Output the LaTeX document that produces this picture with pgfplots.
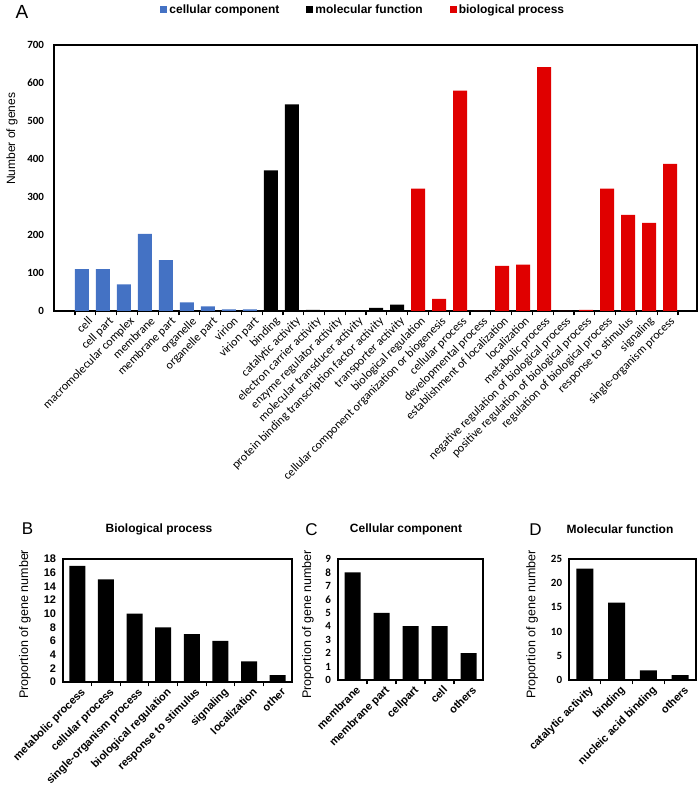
\documentclass[border=0pt]{standalone}
\usepackage{fontspec}
\setmainfont{Liberation Sans}
\newfontfamily\calibri{Carlito}
\usepackage{pgfplots}
\pgfplotsset{compat=1.18}

\definecolor{ccblue}{HTML}{4472C4}
\definecolor{bpred}{HTML}{E00000}

\pgfplotsset{
  goax/.style={
    scale only axis, anchor=south west,
    line width=1.2pt,
    tick pos=left,
    xtick align=outside,
    major tick length=0pt, minor tick length=4.5pt,
    tick style={black, line width=1.2pt},
    ymin=0,
    clip=false,
    /pgf/number format/assume math mode=true,
  },
  gobar/.style={ybar, bar shift=0pt, draw=none,
    legend image code/.code={\fill[##1] (0pt,-3pt) rectangle (7pt,4pt);}},
  rotlab/.style={rotate=45, anchor=north east, inner sep=3pt},
}

\begin{document}
\begin{tikzpicture}[x=1pt,y=1pt]
\useasboundingbox (0,0) rectangle (700,799);

% A: number of genes per GO term
% bars sit at 1..29, labels at the centres of the tick slots (which drift a little)
\begin{axis}[goax, at={(54pt,488pt)}, width=643pt, height=266pt,
  xmin=-0.333, xmax=30.286, ymax=700, ytick={0,100,...,700},
  xtick={1.25,2.24,...,29.1},
  xticklabels={cell, cell part, macromolecular complex, membrane, membrane part,
    organelle, organelle part, virion, virion part, binding, catalytic activity,
    electron carrier activity, enzyme regulator activity, molecular transducer activity,
    protein binding transcription factor activity, transporter activity,
    biological regulation, cellular component organization or biogenesis,
    cellular process, developmental process, establishment of localization,
    localization, metabolic process, negative regulation of biological process,
    positive regulation of biological process, regulation of biological process,
    response to stimulus, signaling, single-organism process},
  minor xtick={0.667,1.657,...,29.4},
  xticklabel style={rotlab, font=\calibri\fontsize{12}{12}\selectfont},
  yticklabel style={font=\calibri\bfseries\fontsize{11}{11}\selectfont, xshift=-6pt},
  ylabel={Number of genes},
  every axis y label/.style={at={(axis description cs:-0.0653,0.647)}, rotate=90,
    anchor=center, font=\fontsize{12}{12}\selectfont},
  legend columns=3,
  legend style={at={(0.481,1.132)}, anchor=center, draw=none, fill=none,
    font=\bfseries\fontsize{12}{12}\selectfont},
]
\addplot[gobar, bar width=14pt, fill=ccblue] coordinates {
  (1,110) (2,110) (3,70) (4,203) (5,134) (6,23) (7,12) (8,4) (9,4)};
\addlegendentry{\mbox{cellular component\rule{25pt}{0pt}}}
\addplot[gobar, bar width=14pt, fill=black] coordinates {
  (10,370) (11,544) (12,3) (13,0) (14,2) (15,8) (16,17)};
\addlegendentry{\mbox{molecular function\rule{25pt}{0pt}}}
\addplot[gobar, bar width=14pt, fill=bpred] coordinates {
  (17,322) (18,32) (19,580) (20,0) (21,119) (22,122) (23,642) (24,0) (25,3)
  (26,322) (27,253) (28,232) (29,387)};
\addlegendentry{biological process}
\end{axis}

% B: biological process
\begin{axis}[goax, at={(63pt,117pt)}, width=229pt, height=123pt,
  xmin=-0.5, xmax=7.5, ymax=18, ytick={0,2,...,18},
  xtick={0.1,1.1,...,7.2},
  xticklabels={metabolic process, cellular process, single-organism process,
    biological regulation, response to stimulus, signaling, localization, other},
  minor xtick={0.5,1.5,...,6.5},
  xticklabel style={rotlab, font=\bfseries\fontsize{11}{11}\selectfont},
  yticklabel style={font=\bfseries\fontsize{11}{11}\selectfont, xshift=-3pt},
  ylabel={Proportion of gene number},
  every axis y label/.style={at={(axis description cs:-0.166,0.47)}, rotate=90,
    anchor=center, font=\fontsize{12.5}{12.5}\selectfont},
]
\addplot[gobar, bar width=16pt, fill=black] coordinates {
  (0,17) (1,15) (2,10) (3,8) (4,7) (5,6) (6,3) (7,1)};
\end{axis}

% C: cellular component
\begin{axis}[goax, at={(338pt,119pt)}, width=145pt, height=121pt,
  xmin=-0.5, xmax=4.5, ymax=9, ytick={0,1,...,9},
  xtick={0.1,1.1,...,4.2},
  xticklabels={membrane, membrane part, cellpart, cell, others},
  minor xtick={0.5,1.5,...,3.5},
  xticklabel style={rotlab, font=\bfseries\fontsize{11}{11}\selectfont},
  yticklabel style={font=\calibri\bfseries\fontsize{11}{11}\selectfont, xshift=-3pt},
  ylabel={Proportion of gene number},
  every axis y label/.style={at={(axis description cs:-0.207,0.46)}, rotate=90,
    anchor=center, font=\fontsize{12.5}{12.5}\selectfont},
]
\addplot[gobar, bar width=16pt, fill=black] coordinates {
  (0,8) (1,5) (2,4) (3,4) (4,2)};
\end{axis}

% D: molecular function
\begin{axis}[goax, at={(569pt,119pt)}, width=127pt, height=121pt,
  xmin=-0.5, xmax=3.5, ymax=25, ytick={0,5,...,25},
  xtick={0.1,1.1,...,3.2},
  xticklabels={catalytic activity, binding, nucleic acid binding, others},
  minor xtick={0.5,1.5,2.5},
  xticklabel style={rotlab, font=\bfseries\fontsize{11}{11}\selectfont},
  yticklabel style={font=\calibri\bfseries\fontsize{11}{11}\selectfont, xshift=-3pt},
  ylabel={Proportion of gene number},
  every axis y label/.style={at={(axis description cs:-0.29,0.46)}, rotate=90,
    anchor=center, font=\fontsize{12.5}{12.5}\selectfont},
]
\addplot[gobar, bar width=17pt, fill=black] coordinates {
  (0,23) (1,16) (2,2) (3,1)};
\end{axis}

% panel letters and titles
\node[font=\fontsize{19}{19}\selectfont] at (22,787) {A};
\node[font=\fontsize{17}{17}\selectfont] at (27.5,270) {B};
\node[font=\fontsize{17}{17}\selectfont] at (311.5,269) {C};
\node[font=\fontsize{17}{17}\selectfont] at (535.5,269) {D};
\node[font=\bfseries\fontsize{12}{12}\selectfont] at (159,270) {Biological process};
\node[font=\bfseries\fontsize{12}{12}\selectfont] at (406,270) {Cellular component};
\node[font=\bfseries\fontsize{12}{12}\selectfont] at (620,270) {Molecular function};
\end{tikzpicture}
\end{document}
